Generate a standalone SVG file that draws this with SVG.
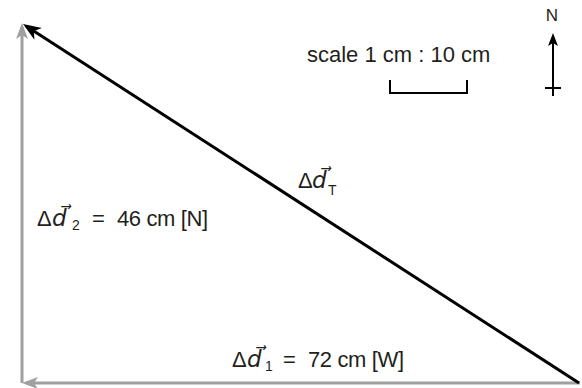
<svg xmlns="http://www.w3.org/2000/svg" width="582" height="388" viewBox="0 0 582 388">
<style>
.lbl{font-family:"Liberation Sans","Open Sans",sans-serif;font-size:22px;fill:#231f20}
.it{font-family:"DejaVu Sans",sans-serif;font-style:italic;font-size:23px}
.sub{font-size:14px}
.grey{stroke:#a0a0a0;stroke-width:3;fill:none}
.blk{stroke:#000;stroke-width:3;fill:none}
</style>
<defs>
<marker id="ab" markerUnits="userSpaceOnUse" viewBox="-1 -8 20 16" markerWidth="20" markerHeight="16" refX="14" refY="0" orient="auto">
<path d="M0,-7 L18,0 L0,7 L5,0 Z" fill="#000"/>
</marker>
<marker id="ag" markerUnits="userSpaceOnUse" viewBox="-1 -7 18 14" markerWidth="18" markerHeight="14" refX="12" refY="0" orient="auto">
<path d="M0,-6 L16,0 L0,6 L4,0 Z" fill="#a0a0a0"/>
</marker>
<marker id="an" markerUnits="userSpaceOnUse" viewBox="-1 -6 14 12" markerWidth="14" markerHeight="12" refX="9" refY="0" orient="auto">
<path d="M0,-5 L13,0 L0,5 L3,0 Z" fill="#000"/>
</marker>
</defs>
<g id="connectors">
<line class="grey" x1="22" y1="383" x2="22" y2="27" marker-end="url(#ag)"/>
<line class="grey" x1="580" y1="383" x2="26" y2="383" marker-end="url(#ag)"/>
<line class="blk" x1="579" y1="383" x2="26.4" y2="26.2" marker-end="url(#ab)"/>
</g>
<g id="label-d1">
<text class="lbl" y="367"><tspan x="232">Δ</tspan><tspan class="it" x="247">d⃗</tspan><tspan class="sub" x="265" dy="4">1</tspan><tspan x="283" dy="-4">=</tspan><tspan x="308" textLength="96" lengthAdjust="spacing">72 cm [W]</tspan></text>
</g>
<g id="label-d2">
<text class="lbl" y="226"><tspan x="37">Δ</tspan><tspan class="it" x="52">d⃗</tspan><tspan class="sub" x="72" dy="4">2</tspan><tspan x="92" dy="-4">=</tspan><tspan x="117" textLength="91" lengthAdjust="spacing">46 cm [N]</tspan></text>
</g>
<g id="label-dT">
<text class="lbl" y="188"><tspan x="298">Δ</tspan><tspan class="it" x="312">d⃗</tspan><tspan class="sub" x="328" dy="7">T</tspan></text>
</g>
<g id="scale">
<text class="lbl" x="307" y="62">scale 1 cm : 10 cm</text>
<path d="M390,80 V93 H467 V80" stroke="#000" stroke-width="2" fill="none"/>
</g>
<g id="north">
<text class="lbl" x="552" y="21" text-anchor="middle" style="font-size:17px">N</text>
<line x1="553" y1="96" x2="553" y2="37" stroke="#000" stroke-width="2" marker-end="url(#an)"/>
<line x1="545" y1="88" x2="561" y2="88" stroke="#000" stroke-width="2"/>
</g>
</svg>
